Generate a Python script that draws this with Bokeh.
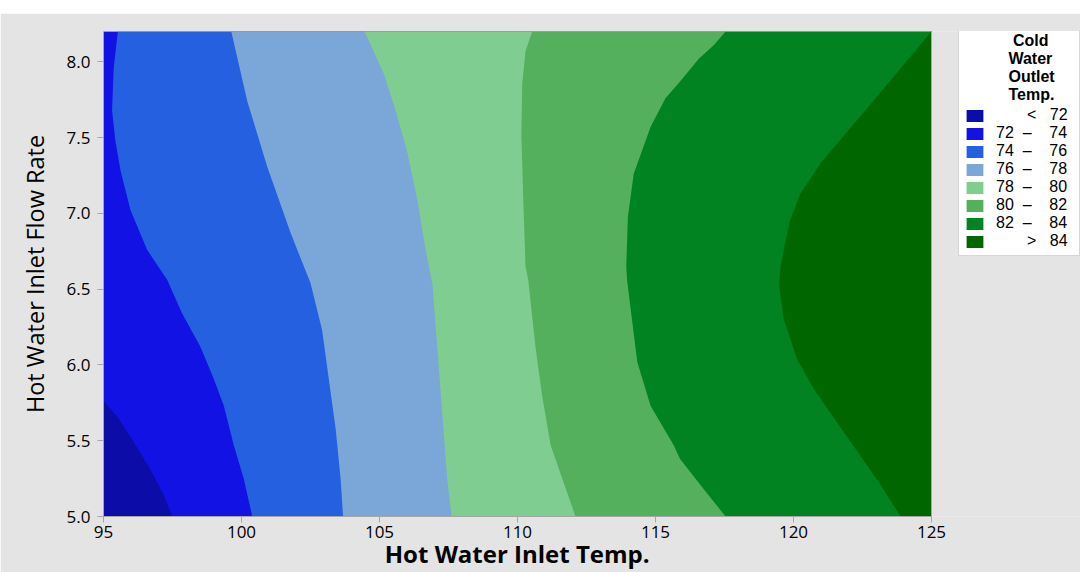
from bokeh.plotting import figure
from bokeh.models import (Legend, LegendItem, FixedTicker,
                          NumeralTickFormatter, Range1d)
from bokeh.embed import file_html
from bokeh.resources import INLINE

# ---------------- data ----------------
x_limits = [95, 125]
y_limits = [5.0, 8.2]
x_ticks = [95, 100, 105, 110, 115, 120, 125]
y_ticks = [5.0, 5.5, 6.0, 6.5, 7.0, 7.5, 8.0]
y_tick_labels = ["5.0", "5.5", "6.0", "6.5", "7.0", "7.5", "8.0"]

levels = [72, 74, 76, 78, 80, 82, 84]
band_colors = ["#0c0ca8", "#1212e4", "#2560e1", "#7ba6d8",
               "#80cd91", "#54b05c", "#008320", "#006600"]

# contour lines (Hot Water Inlet Temp., Hot Water Inlet Flow Rate), top -> bottom
c72_x = [95.0, 95.5, 96.1, 96.7, 97.18, 97.5]
c72_y = [5.76, 5.66, 5.49, 5.31, 5.14, 5.0]

c74_x = [95.52, 95.37, 95.31, 95.43, 95.62, 95.98, 96.58, 97.31, 97.85,
         98.51, 98.99, 99.36, 99.72, 100.08, 100.39]
c74_y = [8.2, 7.96, 7.68, 7.48, 7.28, 7.02, 6.76, 6.56, 6.34,
         6.12, 5.91, 5.73, 5.47, 5.25, 5.0]

c76_x = [99.63, 100.21, 100.93, 101.78, 102.5, 102.92, 103.16, 103.41, 103.59, 103.68]
c76_y = [8.2, 7.74, 7.31, 6.87, 6.54, 6.23, 5.91, 5.58, 5.25, 5.0]

c78_x = [104.46, 105.16, 105.58, 106.0, 106.37, 106.67, 106.92, 107.09, 107.27, 107.45, 107.61]
c78_y = [8.2, 7.92, 7.68, 7.41, 7.09, 6.76, 6.53, 6.12, 5.69, 5.25, 5.0]

c80_x = [110.53, 110.29, 110.17, 110.14, 110.21, 110.29, 110.39, 110.65, 110.89, 111.2, 111.62, 112.1]
c80_y = [8.2, 8.07, 7.85, 7.52, 7.09, 6.65, 6.56, 6.12, 5.8, 5.47, 5.25, 5.0]

c82_x = [117.54, 117.11, 116.57, 115.89, 115.36, 114.82, 114.21, 114.0, 113.94,
         113.97, 114.34, 114.82, 115.66, 115.89, 116.75, 117.54]
c82_y = [8.2, 8.11, 8.02, 7.87, 7.76, 7.57, 7.26, 6.98, 6.65,
         6.56, 6.02, 5.73, 5.47, 5.38, 5.18, 5.0]

c84_x = [125.0, 122.79, 120.98, 120.25, 119.89, 119.77, 119.53, 119.47, 119.65,
         120.13, 120.74, 121.58, 122.43, 123.15, 123.88]
c84_y = [8.2, 7.72, 7.33, 7.13, 6.96, 6.87, 6.65, 6.53, 6.30,
         6.04, 5.84, 5.62, 5.40, 5.21, 5.0]

contours = [(c72_x, c72_y), (c74_x, c74_y), (c76_x, c76_y), (c78_x, c78_y),
            (c80_x, c80_y), (c82_x, c82_y), (c84_x, c84_y)]

x_title = "Hot Water Inlet Temp."
y_title = "Hot Water Inlet Flow Rate"
legend_title = ["Cold", "Water", "Outlet", "Temp."]

# ---------------- layout ----------------
FONT = "Open Sans"
LFONT = "Liberation Sans"
BG = "#e4e4e4"
GRAY = "#a6a6a6"

W, H, TOP_GAP = 1080, 559, 13
B_LEFT, B_RIGHT, B_TOP, B_BOTTOM = 103, 0, 18, 54
PLOT_PX = 828                       # pixel width of the 95..125 contour area
frame_w = W - B_LEFT - B_RIGHT
x_end = x_limits[0] + (x_limits[1] - x_limits[0]) * frame_w / PLOT_PX

p = figure(width=W, height=H,
           x_range=Range1d(x_limits[0], x_end), y_range=Range1d(*y_limits),
           output_backend="svg", toolbar_location=None,
           min_border_left=B_LEFT, min_border_right=B_RIGHT,
           min_border_top=B_TOP, min_border_bottom=B_BOTTOM,
           border_fill_color=BG, background_fill_color=BG,
           outline_line_color=None)
p.margin = (TOP_GAP, 0, 0, 0)
p.grid.visible = False

x0, x1 = x_limits
y0, y1 = y_limits
renderers = [p.patch([x0, x1, x1, x0], [y0, y0, y1, y1],
                     fill_color=band_colors[0], line_color=None)]
for (bx, by), col in zip(contours, band_colors[1:]):
    xs = list(bx) + [x1, x1]
    ys = list(by) + [y0, y1]
    if by[0] < y1:
        xs.append(x0)
        ys.append(y1)
    renderers.append(p.patch(xs, ys, fill_color=col, line_color=None))

# plot-area outline
p.quad(left=[x0], right=[x1], bottom=[y0], top=[y1],
       fill_color=None, line_color=GRAY, line_width=1)

# axes
nb = "\u00a0"
p.xaxis.ticker = FixedTicker(ticks=x_ticks)
p.yaxis.ticker = FixedTicker(ticks=y_ticks)
p.xaxis.bounds = (x0, x1)
p.yaxis.formatter = NumeralTickFormatter(format="0.0")
p.yaxis.major_label_overrides = dict(zip(y_ticks, y_tick_labels))
for ax in (p.xaxis[0], p.yaxis[0]):
    ax.axis_line_color = GRAY
    ax.major_tick_line_color = GRAY
    ax.major_tick_out = 6
    ax.major_tick_in = 0
    ax.minor_tick_line_color = None
    ax.major_label_text_font = FONT
    ax.major_label_text_font_size = "17px"
    ax.major_label_text_color = "black"
    ax.axis_label_text_font = FONT
    ax.axis_label_text_color = "black"
p.xaxis.major_label_standoff = 3
p.yaxis.major_label_standoff = 7
# the label is centred on the whole frame; trailing no-break spaces
# move it back under the contour area
p.xaxis.axis_label = x_title + nb * 24
p.xaxis.axis_label_text_font_size = "24px"
p.xaxis.axis_label_text_font_style = "bold"
p.xaxis.axis_label_standoff = -4
p.yaxis.axis_label = y_title
p.yaxis.axis_label_text_font_size = "23.5px"
p.yaxis.axis_label_text_font_style = "normal"
p.yaxis.axis_label_standoff = 13

# legend
def band_label(i):
    if i == 0:
        return nb * 7 + "<" + nb * 3 + str(levels[0])
    if i == len(levels):
        return nb * 7 + ">" + nb * 3 + str(levels[-1])
    return f"{levels[i-1]}{nb*2}\u2013{nb*4}{levels[i]}"

title_pad = [11, 10, 10, 10]
title_text = "\n".join(nb * k + t for k, t in zip(title_pad, legend_title))

items = [LegendItem(label=band_label(i), renderers=[r]) for i, r in enumerate(renderers)]
legend = Legend(items=items, location=(855, 260),
                title=title_text, title_text_font=LFONT,
                title_text_font_size="16px", title_text_font_style="bold",
                title_text_color="black", title_standoff=2,
                padding=5, spacing=0, margin=0,
                glyph_width=21, glyph_height=15,
                label_standoff=11, label_height=15, label_width=78,
                label_text_font=LFONT, label_text_font_size="16px",
                label_text_color="black",
                border_line_color="#b0b0b0", border_line_width=1,
                background_fill_color="white", background_fill_alpha=1)
p.add_layout(legend)

open("out.html", "w").write(file_html(p, INLINE))
